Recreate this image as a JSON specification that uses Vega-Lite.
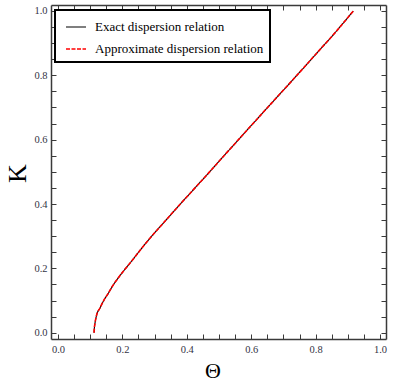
{
  "$schema": "https://vega.github.io/schema/vega-lite/v6.json",
  "width": 335,
  "height": 334,
  "autosize": {"type": "none"},
  "padding": {"left": 51, "top": 5, "right": 22, "bottom": 47},
  "background": "white",
  "config": {
    "view": {"stroke": null},
    "axis": {
      "domainColor": "#3a3a3a",
      "domainWidth": 1.5,
      "tickColor": "#3a3a3a",
      "tickWidth": 1,
      "tickSize": -5,
      "grid": false,
      "labelFont": "Liberation Serif",
      "labelFontSize": 10.5,
      "labelColor": "#333344",
      "labelFlush": false,
      "labelOverlap": false,
      "titleFont": "Liberation Serif",
      "titleFontWeight": "normal",
      "titleColor": "black"
    }
  },
  "datasets": {
    "curve": [
      {"series": "Exact dispersion relation", "theta": 0.112, "k": 0.0},
      {"series": "Exact dispersion relation", "theta": 0.113, "k": 0.015},
      {"series": "Exact dispersion relation", "theta": 0.115, "k": 0.03},
      {"series": "Exact dispersion relation", "theta": 0.12, "k": 0.055},
      {"series": "Exact dispersion relation", "theta": 0.13, "k": 0.076},
      {"series": "Exact dispersion relation", "theta": 0.142, "k": 0.1},
      {"series": "Exact dispersion relation", "theta": 0.156, "k": 0.122},
      {"series": "Exact dispersion relation", "theta": 0.17, "k": 0.146},
      {"series": "Exact dispersion relation", "theta": 0.187, "k": 0.17},
      {"series": "Exact dispersion relation", "theta": 0.207, "k": 0.196},
      {"series": "Exact dispersion relation", "theta": 0.229, "k": 0.223},
      {"series": "Exact dispersion relation", "theta": 0.254, "k": 0.255},
      {"series": "Exact dispersion relation", "theta": 0.28, "k": 0.287},
      {"series": "Exact dispersion relation", "theta": 0.33, "k": 0.344},
      {"series": "Exact dispersion relation", "theta": 0.38, "k": 0.4},
      {"series": "Exact dispersion relation", "theta": 0.42, "k": 0.444},
      {"series": "Exact dispersion relation", "theta": 0.47, "k": 0.499},
      {"series": "Exact dispersion relation", "theta": 0.52, "k": 0.555},
      {"series": "Exact dispersion relation", "theta": 0.565, "k": 0.605},
      {"series": "Exact dispersion relation", "theta": 0.62, "k": 0.666},
      {"series": "Exact dispersion relation", "theta": 0.68, "k": 0.732},
      {"series": "Exact dispersion relation", "theta": 0.741, "k": 0.799},
      {"series": "Exact dispersion relation", "theta": 0.8, "k": 0.865},
      {"series": "Exact dispersion relation", "theta": 0.86, "k": 0.932},
      {"series": "Exact dispersion relation", "theta": 0.917, "k": 1.0},
      {"series": "Approximate dispersion relation", "theta": 0.112, "k": 0.0},
      {"series": "Approximate dispersion relation", "theta": 0.113, "k": 0.015},
      {"series": "Approximate dispersion relation", "theta": 0.115, "k": 0.03},
      {"series": "Approximate dispersion relation", "theta": 0.12, "k": 0.055},
      {"series": "Approximate dispersion relation", "theta": 0.13, "k": 0.076},
      {"series": "Approximate dispersion relation", "theta": 0.142, "k": 0.1},
      {"series": "Approximate dispersion relation", "theta": 0.156, "k": 0.122},
      {"series": "Approximate dispersion relation", "theta": 0.17, "k": 0.146},
      {"series": "Approximate dispersion relation", "theta": 0.187, "k": 0.17},
      {"series": "Approximate dispersion relation", "theta": 0.207, "k": 0.196},
      {"series": "Approximate dispersion relation", "theta": 0.229, "k": 0.223},
      {"series": "Approximate dispersion relation", "theta": 0.254, "k": 0.255},
      {"series": "Approximate dispersion relation", "theta": 0.28, "k": 0.287},
      {"series": "Approximate dispersion relation", "theta": 0.33, "k": 0.344},
      {"series": "Approximate dispersion relation", "theta": 0.38, "k": 0.4},
      {"series": "Approximate dispersion relation", "theta": 0.42, "k": 0.444},
      {"series": "Approximate dispersion relation", "theta": 0.47, "k": 0.499},
      {"series": "Approximate dispersion relation", "theta": 0.52, "k": 0.555},
      {"series": "Approximate dispersion relation", "theta": 0.565, "k": 0.605},
      {"series": "Approximate dispersion relation", "theta": 0.62, "k": 0.666},
      {"series": "Approximate dispersion relation", "theta": 0.68, "k": 0.732},
      {"series": "Approximate dispersion relation", "theta": 0.741, "k": 0.799},
      {"series": "Approximate dispersion relation", "theta": 0.8, "k": 0.865},
      {"series": "Approximate dispersion relation", "theta": 0.86, "k": 0.932},
      {"series": "Approximate dispersion relation", "theta": 0.917, "k": 1.0}
    ]
  },
  "data": {"name": "curve"},
  "resolve": {"axis": {"x": "independent", "y": "independent"}},
  "layer": [
    {
      "mark": {"type": "line", "interpolate": "monotone"},
      "encoding": {
        "x": {
          "field": "theta", "type": "quantitative",
          "scale": {"domain": [-0.0217, 1.0186], "nice": false, "zero": false},
          "axis": {
            "orient": "bottom",
            "title": "Θ",
            "titleFont": "Liberation Serif",
            "titleFontSize": 22,
            "titleX": 161.5,
            "titleY": 31.5,
            "titleBaseline": "middle",
            "titleAnchor": null,
            "values": [0, 0.05, 0.1, 0.15, 0.2, 0.25, 0.3, 0.35, 0.4, 0.45, 0.5, 0.55, 0.6, 0.65, 0.7, 0.75, 0.8, 0.85, 0.9, 0.95, 1.0],
            "labelExpr": "abs(datum.value*5 - round(datum.value*5)) < 0.001 ? format(datum.value, '.1f') : ''",
            "labelFont": "Liberation Serif",
            "labelPadding": 10
          }
        },
        "y": {
          "field": "k", "type": "quantitative",
          "scale": {"domain": [-0.0196, 1.0186], "nice": false, "zero": false},
          "axis": {
            "orient": "left",
            "title": "K",
            "titleFont": "Liberation Serif",
            "titleFontSize": 26,
            "titleX": -34,
            "titleY": 168,
            "titleAngle": -90,
            "titleBaseline": "middle",
            "titleAnchor": null,
            "values": [0, 0.05, 0.1, 0.15, 0.2, 0.25, 0.3, 0.35, 0.4, 0.45, 0.5, 0.55, 0.6, 0.65, 0.7, 0.75, 0.8, 0.85, 0.9, 0.95, 1.0],
            "labelExpr": "abs(datum.value*5 - round(datum.value*5)) < 0.001 ? format(datum.value, '.1f') : ''",
            "labelFont": "Liberation Serif",
            "labelPadding": 9
          }
        },
        "color": {
          "field": "series", "type": "nominal",
          "scale": {"domain": ["Exact dispersion relation", "Approximate dispersion relation"], "range": ["black", "#ff0000"]},
          "legend": {
            "title": null,
            "orient": "none",
            "legendX": 4,
            "legendY": 5,
            "strokeColor": "black",
            "fillColor": "white",
            "padding": 6,
            "symbolType": "stroke",
            "symbolSize": 400,
            "symbolStrokeWidth": 1.5,
            "symbolOffset": 4,
            "labelFont": "Liberation Serif",
            "labelFontSize": 13,
            "labelColor": "black",
            "labelOffset": 8,
            "rowPadding": 4,
            "labelLimit": 300,
            "encode": {"legend": {"update": {"strokeWidth": {"value": 2}}}}
          }
        },
        "strokeDash": {
          "field": "series", "type": "nominal",
          "scale": {"domain": ["Exact dispersion relation", "Approximate dispersion relation"], "range": [[1, 0], [4, 1.5]]},
          "legend": {"title": null}
        },
        "strokeWidth": {
          "field": "series", "type": "nominal",
          "scale": {"domain": ["Exact dispersion relation", "Approximate dispersion relation"], "range": [1.1, 1.6]},
          "legend": null
        }
      }
    },
    {
      "mark": {"type": "line", "opacity": 0},
      "encoding": {
        "x": {
          "field": "theta", "type": "quantitative",
          "scale": {"domain": [-0.0217, 1.0186], "nice": false, "zero": false},
          "axis": {
            "orient": "top",
            "title": null,
            "labels": false,
            "values": [0, 0.05, 0.1, 0.15, 0.2, 0.25, 0.3, 0.35, 0.4, 0.45, 0.5, 0.55, 0.6, 0.65, 0.7, 0.75, 0.8, 0.85, 0.9, 0.95, 1.0]
          }
        },
        "y": {
          "field": "k", "type": "quantitative",
          "scale": {"domain": [-0.0196, 1.0186], "nice": false, "zero": false},
          "axis": {
            "orient": "right",
            "title": null,
            "labels": false,
            "values": [0, 0.05, 0.1, 0.15, 0.2, 0.25, 0.3, 0.35, 0.4, 0.45, 0.5, 0.55, 0.6, 0.65, 0.7, 0.75, 0.8, 0.85, 0.9, 0.95, 1.0]
          }
        }
      }
    }
  ]
}
